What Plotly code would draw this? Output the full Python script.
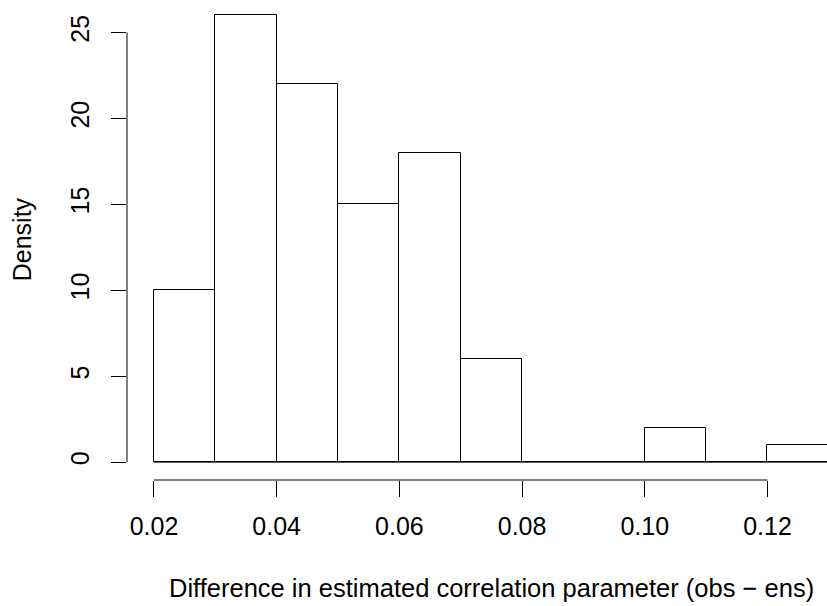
import plotly.graph_objects as go

# Histogram data (density per bin)
bin_left = [0.02, 0.03, 0.04, 0.05, 0.06, 0.07, 0.08, 0.09, 0.10, 0.11, 0.12]
bin_width = 0.01
density = [10, 26, 22, 15, 18, 6, 0, 0, 2, 0, 1]

x_ticks = [0.02, 0.04, 0.06, 0.08, 0.10, 0.12]
x_tick_labels = ["0.02", "0.04", "0.06", "0.08", "0.10", "0.12"]
y_ticks = [0, 5, 10, 15, 20, 25]
y_tick_labels = ["0", "5", "10", "15", "20", "25"]

x_title = "Difference in estimated correlation parameter (obs \u2212 ens)"
y_title = "Density"

FONT = "Liberation Sans, Arial, Helvetica, sans-serif"
FS = 25

centers = [b + bin_width / 2 for b in bin_left]

fig = go.Figure()
fig.add_trace(go.Bar(
    x=centers, y=density, width=[bin_width] * len(bin_left),
    marker=dict(color="white", line=dict(color="black", width=1)),
    hoverinfo="skip",
))

# baseline for empty bins (R draws zero-height rectangles)
fig.add_trace(go.Scatter(
    x=[bin_left[0], bin_left[-1] + bin_width], y=[0, 0], mode="lines",
    line=dict(color="black", width=1), hoverinfo="skip",
))

xr = [bin_left[0] - 0.04 * 0.11, 0.1297]
yr = [-0.04 * 26, 26.89]

fig.update_layout(
    width=827, height=606,
    margin=dict(l=127, r=0, t=0, b=125.5),
    paper_bgcolor="white", plot_bgcolor="white",
    showlegend=False, bargap=0,
    font=dict(family=FONT, size=FS, color="black"),
    xaxis=dict(range=xr, showgrid=False, zeroline=False, showline=False,
               tickmode="array", tickvals=x_ticks, ticktext=x_tick_labels,
               ticks="outside", ticklen=16, tickwidth=1, tickcolor="black",
               ticklabelstandoff=8, fixedrange=True),
    yaxis=dict(range=yr, showgrid=False, zeroline=False, showline=False,
               tickmode="array", tickvals=y_ticks, ticktext=y_tick_labels,
               ticks="outside", ticklen=15, tickwidth=1, tickcolor="black",
               tickangle=-90, ticklabelstandoff=12, fixedrange=True),
    shapes=[
        dict(type="line", xref="x", yref="paper", x0=x_ticks[0], x1=x_ticks[-1],
             y0=0, y1=0, line=dict(color="black", width=1)),
        dict(type="line", xref="paper", yref="y", x0=0, x1=0,
             y0=y_ticks[0], y1=y_ticks[-1], line=dict(color="black", width=1)),
    ],
    annotations=[
        dict(text=x_title, xref="paper", yref="paper", x=(491.5 - 127) / 700, y=0,
             yshift=-(588 - 480.5), xanchor="center", yanchor="middle",
             showarrow=False, font=dict(size=25.5)),
        dict(text=y_title, xref="paper", yref="paper", x=0, y=(480.5 - 239.5) / 480.5,
             xshift=-(127 - 22), xanchor="center", yanchor="middle", textangle=-90,
             showarrow=False, font=dict(size=FS)),
    ],
)

fig.write_html("out.html", config={"displayModeBar": False},
               post_script="document.body.style.margin='0';")
